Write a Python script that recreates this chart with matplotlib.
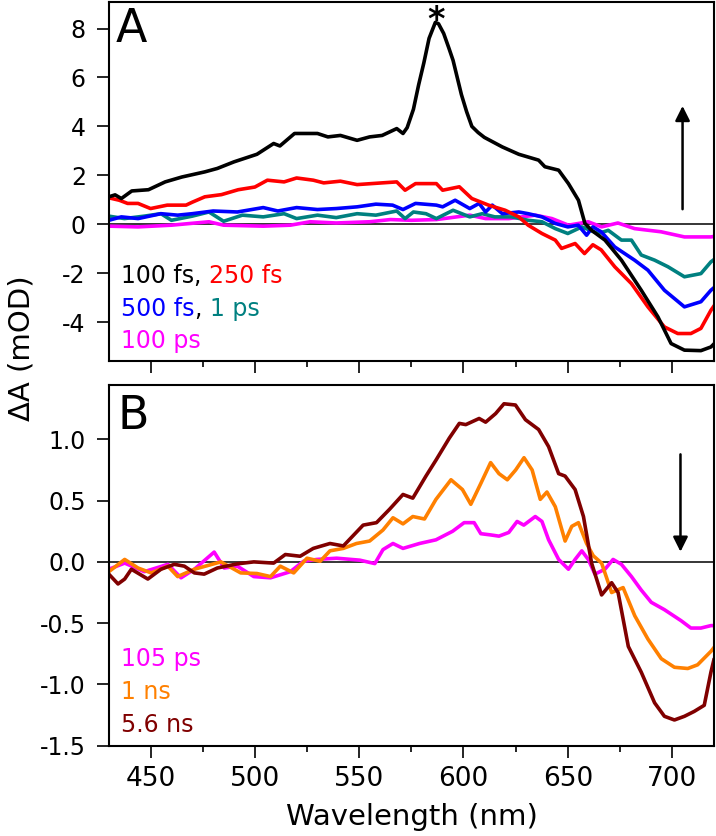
import matplotlib
matplotlib.use("Agg")
import matplotlib.pyplot as plt
from matplotlib.ticker import MultipleLocator, FormatStrFormatter

plt.rcParams['font.family'] = ['DejaVu Sans']
plt.rcParams['axes.unicode_minus'] = False

# ---- panel A: early-time spectra ----
wl_100fs = [430, 433, 436, 441, 449, 457, 465, 476, 482, 490, 501, 509, 512, 519, 530, 535,
            541, 549, 555, 561, 568, 571, 573, 576, 578.5, 581, 583.5, 586.5, 588, 590.5, 593,
            595, 597, 599, 601.5, 604, 607, 610, 618.6, 626.5, 636, 639, 645.6, 650.3, 655.1,
            658.2, 661.4, 667.8, 675.7, 685.2, 693.2, 699.5, 705.9, 713.8, 718.6, 720]
dA_100fs = [1.12, 1.2, 1.05, 1.36, 1.41, 1.73, 1.93, 2.14, 2.28, 2.55, 2.86, 3.3, 3.2, 3.71, 3.71, 3.57,
            3.63, 3.43, 3.57, 3.63, 3.91, 3.71, 3.95, 4.7, 5.7, 6.6, 7.6, 8.25, 8.2, 7.8, 7.2,
            6.7, 6.0, 5.3, 4.6, 4.0, 3.75, 3.55, 3.16, 2.86, 2.62, 2.35, 2.21, 1.66, 0.98,
            0.03, -0.25, -0.65, -1.47, -2.7, -3.79, -4.88, -5.15, -5.17, -5.02, -4.9]

wl_250fs = [430, 435, 439, 444, 450, 458, 467, 470, 476, 484, 492, 500, 506, 514, 520, 528, 533,
            541, 549, 561, 568, 572, 577, 587, 590, 598, 604, 612, 620, 626.5, 631, 637.6, 644,
            647, 653.5, 658, 662, 666, 672.5, 680.5, 688.4, 696.3, 702.7, 709, 713.8, 718.6, 720]
dA_250fs = [1.08, 0.98, 0.85, 0.85, 0.64, 0.78, 0.78, 0.9, 1.12, 1.21, 1.41, 1.52, 1.8, 1.73, 1.89,
            1.8, 1.69, 1.76, 1.62, 1.69, 1.73, 1.39, 1.66, 1.66, 1.39, 1.53, 1.05, 0.78, 0.57, 0.3,
            -0.04, -0.38, -0.65, -0.99, -0.79, -1.2, -0.84, -1.05, -1.74, -2.43, -3.38, -4.2,
            -4.47, -4.47, -4.26, -3.52, -3.35]

wl_500fs = [430, 436, 444, 455, 463, 470, 480, 491.6, 504, 511, 520, 530, 539, 549, 558, 566, 571,
            577, 587, 590, 596, 603, 607.5, 610.6, 613.8, 618.6, 626.5, 631, 637.6, 644, 650, 655,
            659, 662, 666, 672.5, 682, 688.4, 696.3, 705.9, 713.8, 718.6, 720]
dA_500fs = [0.16, 0.3, 0.23, 0.43, 0.37, 0.43, 0.54, 0.5, 0.68, 0.54, 0.68, 0.6, 0.64, 0.71, 0.82,
            0.78, 0.6, 0.85, 0.78, 0.71, 0.98, 0.64, 0.85, 0.5, 0.78, 0.43, 0.5, 0.43, 0.3, 0.03,
            -0.11, -0.04, -0.45, -0.11, -0.31, -0.93, -1.47, -1.88, -2.7, -3.38, -3.17, -2.7, -2.6]

wl_1ps = [430, 437.5, 447, 455, 460, 470, 478, 485, 494, 504, 514, 520, 530, 539, 549, 558, 568,
          572, 576, 582, 587, 595, 603, 609, 615, 623, 631, 637.6, 644, 650, 656.7, 664.6, 669.4,
          675.7, 680.5, 685.2, 691.6, 698, 705.9, 713.8, 718.6, 720]
dA_1ps = [0.33, 0.23, 0.33, 0.43, 0.16, 0.33, 0.5, 0.12, 0.37, 0.3, 0.43, 0.23, 0.37, 0.27, 0.43,
          0.37, 0.54, 0.23, 0.5, 0.43, 0.23, 0.57, 0.3, 0.43, 0.3, 0.3, 0.16, 0.1, -0.18, -0.38,
          -0.11, -0.38, -0.25, -0.65, -0.65, -1.26, -1.47, -1.74, -2.15, -2.02, -1.54, -1.45]

wl_100ps = [430, 444, 460, 478, 485, 504, 517, 526.5, 539, 555, 565, 575, 587, 603, 610.6, 621.7,
            634.4, 642.4, 650.3, 659.8, 666.2, 674, 682, 694.7, 705.9, 718.6, 720]
dA_100ps = [-0.08, -0.11, -0.04, 0.1, -0.04, -0.08, -0.04, 0.1, 0.05, 0.1, 0.19, 0.16, 0.19, 0.37,
            0.23, 0.23, 0.37, 0.23, -0.04, 0.1, -0.11, 0.05, -0.18, -0.31, -0.52, -0.52, -0.5]

# ---- panel B: late-time spectra ----
wl_105ps = [430, 437.6, 447, 458.3, 464.6, 471, 480.5, 485.3, 491.6, 499.5, 507.5, 517, 523.3,
            529.7, 539.2, 550.3, 557.5, 561.4, 566.2, 571, 578.9, 586.8, 594.8, 600.3, 605.1,
            608.3, 613, 617, 621.7, 625.7, 628.9, 634.4, 637.6, 640.8, 645.6, 650.3, 653.5, 656.7,
            659.8, 663, 667.8, 671.7, 675.7, 680.5, 685.2, 690, 696.3, 704.3, 709, 713.8, 718.6, 720]
dA_105ps = [-0.06, -0.01, -0.08, -0.02, -0.13, -0.06, 0.08, -0.05, -0.035, -0.12, -0.13, -0.08,
            0.005, 0.02, 0.03, 0.014, -0.014, 0.1, 0.15, 0.11, 0.15, 0.18, 0.25, 0.32, 0.32, 0.23,
            0.22, 0.21, 0.24, 0.33, 0.3, 0.37, 0.33, 0.18, 0.02, -0.06, 0.02, 0.09, 0.02, -0.1,
            -0.06, 0.02, -0.02, -0.12, -0.23, -0.33, -0.39, -0.48, -0.54, -0.54, -0.52, -0.52]

wl_1ns = [430, 437.6, 444, 450.3, 458.3, 463, 471, 483.7, 493.2, 501, 507.5, 512.2, 518.6, 525,
          531.3, 536, 542.4, 548.7, 555, 561.4, 566.2, 571, 575.7, 581.3, 586.8, 594, 599.5, 603.5,
          608.3, 613, 617, 621, 625, 629, 632.9, 636.8, 640, 644, 648.7, 651.9, 655.1, 659, 662.2,
          666.2, 671, 676.5, 682.1, 688.4, 694.8, 701.1, 707.5, 712.2, 718.6, 720]
dA_1ns = [-0.08, 0.02, -0.05, -0.09, -0.035, -0.12, -0.06, 0.0, -0.09, -0.095, -0.12, -0.035, -0.09,
          0.03, 0.005, 0.09, 0.11, 0.15, 0.17, 0.26, 0.36, 0.31, 0.37, 0.35, 0.51, 0.67, 0.59, 0.47,
          0.64, 0.81, 0.72, 0.67, 0.75, 0.85, 0.75, 0.51, 0.57, 0.45, 0.17, 0.29, 0.32, 0.15, 0.05,
          -0.01, -0.25, -0.21, -0.44, -0.63, -0.79, -0.86, -0.87, -0.84, -0.73, -0.7]

wl_56ns = [430, 434.4, 437.6, 440.8, 448.7, 455, 461.4, 466.2, 471, 475.7, 482, 491.6, 499.5, 509,
           514.6, 521.7, 528, 536, 542.4, 551.9, 558.3, 564.6, 571, 575.7, 582, 586.8, 593.2, 598,
           601.1, 607.5, 610.6, 615.4, 619.4, 624.9, 629.7, 636, 640.8, 645.6, 648.7, 653.5, 657.5,
           661.4, 666.2, 671, 674.1, 679, 685.2, 691.6, 696.3, 701.1, 705.9, 710.6, 715.4, 718.6, 720]
dA_56ns = [-0.1, -0.18, -0.14, -0.06, -0.14, -0.06, -0.02, -0.035, -0.09, -0.1, -0.05, -0.016, 0.0,
           -0.01, 0.06, 0.046, 0.11, 0.15, 0.13, 0.3, 0.32, 0.43, 0.55, 0.52, 0.7, 0.83, 1.01, 1.13,
           1.12, 1.17, 1.14, 1.21, 1.29, 1.28, 1.16, 1.08, 0.94, 0.72, 0.7, 0.59, 0.37, -0.01,
           -0.27, -0.17, -0.25, -0.69, -0.9, -1.15, -1.26, -1.29, -1.26, -1.22, -1.17, -0.9, -0.8]

c_black, c_red, c_blue, c_teal, c_mag = 'black', '#ff0000', '#0000ff', '#008080', '#ff00ff'
c_orange, c_dred = '#ff8000', '#800000'

fig = plt.figure(figsize=(7.16, 8.36), dpi=100)
axA = fig.add_axes([0.152, 0.568, 0.845, 0.430])
axB = fig.add_axes([0.152, 0.108, 0.845, 0.431])

lw = 2.6
axA.plot(wl_100ps, dA_100ps, color=c_mag, lw=lw)
axA.plot(wl_1ps, dA_1ps, color=c_teal, lw=lw)
axA.plot(wl_500fs, dA_500fs, color=c_blue, lw=lw)
axA.plot(wl_250fs, dA_250fs, color=c_red, lw=lw)
axA.plot(wl_100fs, dA_100fs, color=c_black, lw=lw)

axB.plot(wl_105ps, dA_105ps, color=c_mag, lw=lw)
axB.plot(wl_1ns, dA_1ns, color=c_orange, lw=lw)
axB.plot(wl_56ns, dA_56ns, color=c_dred, lw=lw)

for ax in (axA, axB):
    ax.axhline(0, color='black', lw=1.1, zorder=0)
    ax.set_xlim(430, 720)
    ax.xaxis.set_major_locator(MultipleLocator(50))
    ax.xaxis.set_minor_locator(MultipleLocator(25))
    ax.tick_params(which='major', direction='out', length=8.6, width=1.2, labelsize=17)
    ax.tick_params(which='minor', direction='out', length=4.3, width=1.2)
    ax.tick_params(axis='y', which='minor', left=False)
    ax.tick_params(axis='y', pad=8)
    for s in ax.spines.values():
        s.set_linewidth(1.5)

axA.set_ylim(-5.6, 9.1)
axA.yaxis.set_major_locator(MultipleLocator(2))
axA.tick_params(axis='x', labelbottom=False)

axB.set_ylim(-1.5, 1.44)
axB.yaxis.set_major_locator(MultipleLocator(0.5))
axB.yaxis.set_major_formatter(FormatStrFormatter('%.1f'))
axB.tick_params(axis='x', labelsize=19, pad=6)

# panel letters, star, arrows
axA.text(0.012, 0.985, 'A', transform=axA.transAxes, fontsize=33, va='top', ha='left')
axB.text(0.015, 0.975, 'B', transform=axB.transAxes, fontsize=33, va='top', ha='left')
axA.text(587, 7.95, '*', fontsize=24, fontweight='bold', ha='center', va='baseline')

arrow = dict(arrowstyle='-|>', color='black', lw=1.8, mutation_scale=22)
axA.annotate('', xy=(705, 4.95), xytext=(705, 0.5), arrowprops=arrow)
axB.annotate('', xy=(704, 0.06), xytext=(704, 0.9), arrowprops=arrow)

# in-plot labels
fs = 17
axA.text(436, -2.1, '100 fs', color=c_black, fontsize=fs, va='center')
axA.annotate(', ', xy=(1, 0), xycoords=axA.texts[-1], color=c_black, fontsize=fs, va='bottom')
axA.annotate('250 fs', xy=(1, 0), xycoords=axA.texts[-1], color=c_red, fontsize=fs, va='bottom')
axA.text(436, -3.45, '500 fs', color=c_blue, fontsize=fs, va='center')
t = axA.annotate(', ', xy=(1, 0), xycoords=axA.texts[-1], color=c_black, fontsize=fs, va='bottom')
axA.annotate('1 ps', xy=(1, 0), xycoords=t, color=c_teal, fontsize=fs, va='bottom')
axA.text(436, -4.78, '100 ps', color=c_mag, fontsize=fs, va='center')

axB.text(436, -0.79, '105 ps', color=c_mag, fontsize=fs, va='center')
axB.text(436, -1.06, '1 ns', color=c_orange, fontsize=fs, va='center')
axB.text(436, -1.33, '5.6 ns', color=c_dred, fontsize=fs, va='center')

fig.text(0.03, 0.584, 'ΔA (mOD)', rotation=90, fontsize=21, ha='center', va='center')
fig.text(0.575, 0.023, 'Wavelength (nm)', fontsize=21, ha='center', va='center')

fig.savefig('out.png', dpi=100)
